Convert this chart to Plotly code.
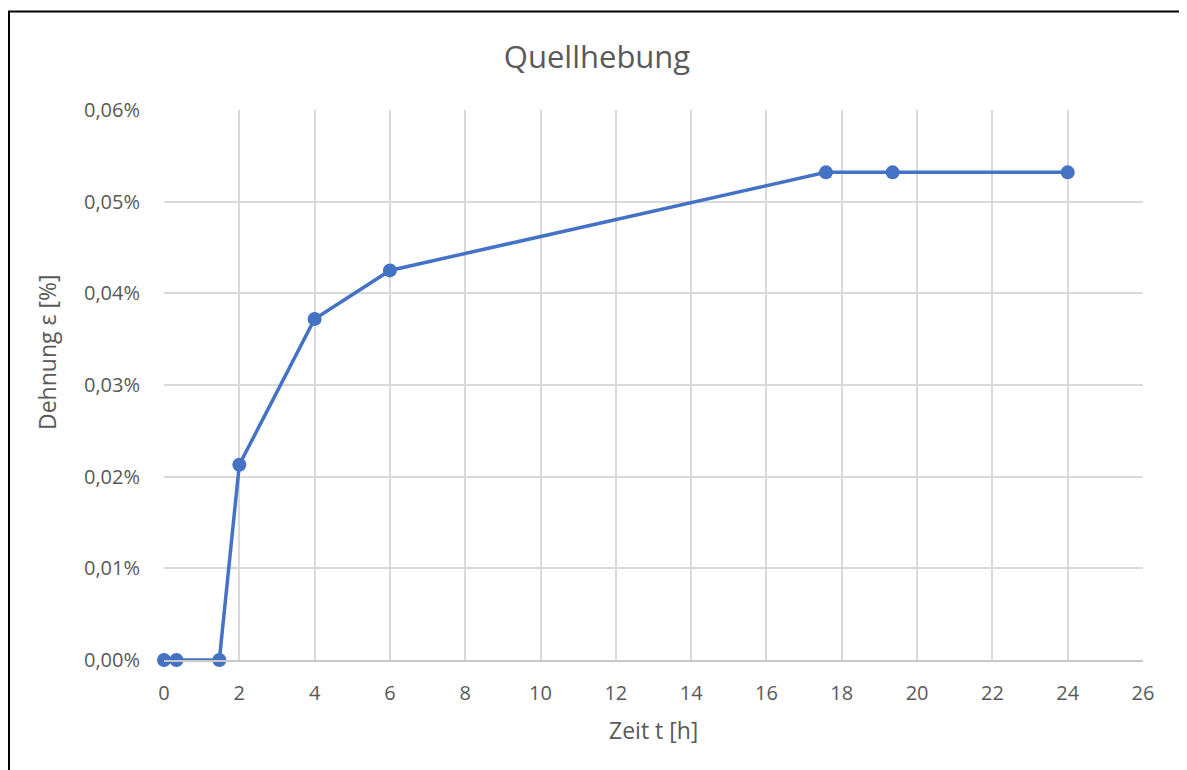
import plotly.graph_objects as go

zeit_h = [0, 0.33, 1.47, 2, 4, 6, 17.58, 19.35, 24]
dehnung_pct = [0, 0, 0, 0.0213, 0.0372, 0.0425, 0.0532, 0.0532, 0.0532]
x_ticks = list(range(0, 27, 2))
y_ticks = [0, 0.01, 0.02, 0.03, 0.04, 0.05, 0.06]
y_tick_labels = ["0,00%", "0,01%", "0,02%", "0,03%", "0,04%", "0,05%", "0,06%"]

font_family = "Open Sans, Liberation Sans, sans-serif"
gray = "#595959"
blue = "#4472C4"

# figure pixel geometry (page adds an 8px body margin)
W, H = 1179, 762
PL, PR, PT, PB = 156, 1135, 102, 652
pw, ph = PR - PL, PB - PT


def px(x):
    return (x - PL) / pw


def py(y):
    return (PB - y) / ph


fig = go.Figure()
fig.add_trace(go.Scatter(
    x=zeit_h, y=dehnung_pct, mode="lines+markers",
    line=dict(color=blue, width=3.5),
    marker=dict(color=blue, size=14),
    showlegend=False, cliponaxis=False,
))

fig.update_layout(
    width=W, height=H,
    margin=dict(l=PL, r=W - PR, t=PT, b=H - PB, pad=0),
    paper_bgcolor="white", plot_bgcolor="white",
    font=dict(family=font_family, color=gray, size=20),
    title=dict(text="Quellhebung", x=589 / W, xref="container", xanchor="center",
               y=1 - 49 / H, yref="container", yanchor="middle",
               font=dict(size=31, color=gray, family=font_family)),
    xaxis=dict(range=[0, 26], tickvals=x_ticks, showgrid=True, gridcolor="#d9d9d9",
               gridwidth=1.6, zeroline=False, showline=True, linecolor="#c8c8c8",
               linewidth=1.6, ticks="outside", ticklen=14, tickcolor="rgba(0,0,0,0)",
               tickfont=dict(size=20, color=gray)),
    yaxis=dict(range=[0, 0.06], tickvals=y_ticks, ticktext=y_tick_labels,
               showgrid=True, gridcolor="#d9d9d9", gridwidth=1.6, zeroline=False,
               showline=False, ticks="outside", ticklen=19, tickcolor="rgba(0,0,0,0)",
               tickfont=dict(size=20, color=gray)),
    annotations=[
        dict(text="Zeit t [h]", x=0.5, xref="paper", y=py(722), yref="paper",
             showarrow=False, xanchor="center", yanchor="middle",
             font=dict(size=23, color=gray)),
        dict(text="Dehnung ε [%]", x=px(39), xref="paper",
             y=py(344), yref="paper", textangle=-90,
             showarrow=False, xanchor="center", yanchor="middle",
             font=dict(size=23, color=gray)),
    ],
    shapes=[
        dict(type="path", xref="paper", yref="paper",
             path="M %f,%f L %f,%f L %f,%f L %f,%f" % (
                 px(1), py(H + 10), px(1), py(3.5),
                 px(1175.3), py(3.5), px(1175.3), py(H + 10)),
             line=dict(color="black", width=2)),
    ],
)

fig.write_html("out.html")
